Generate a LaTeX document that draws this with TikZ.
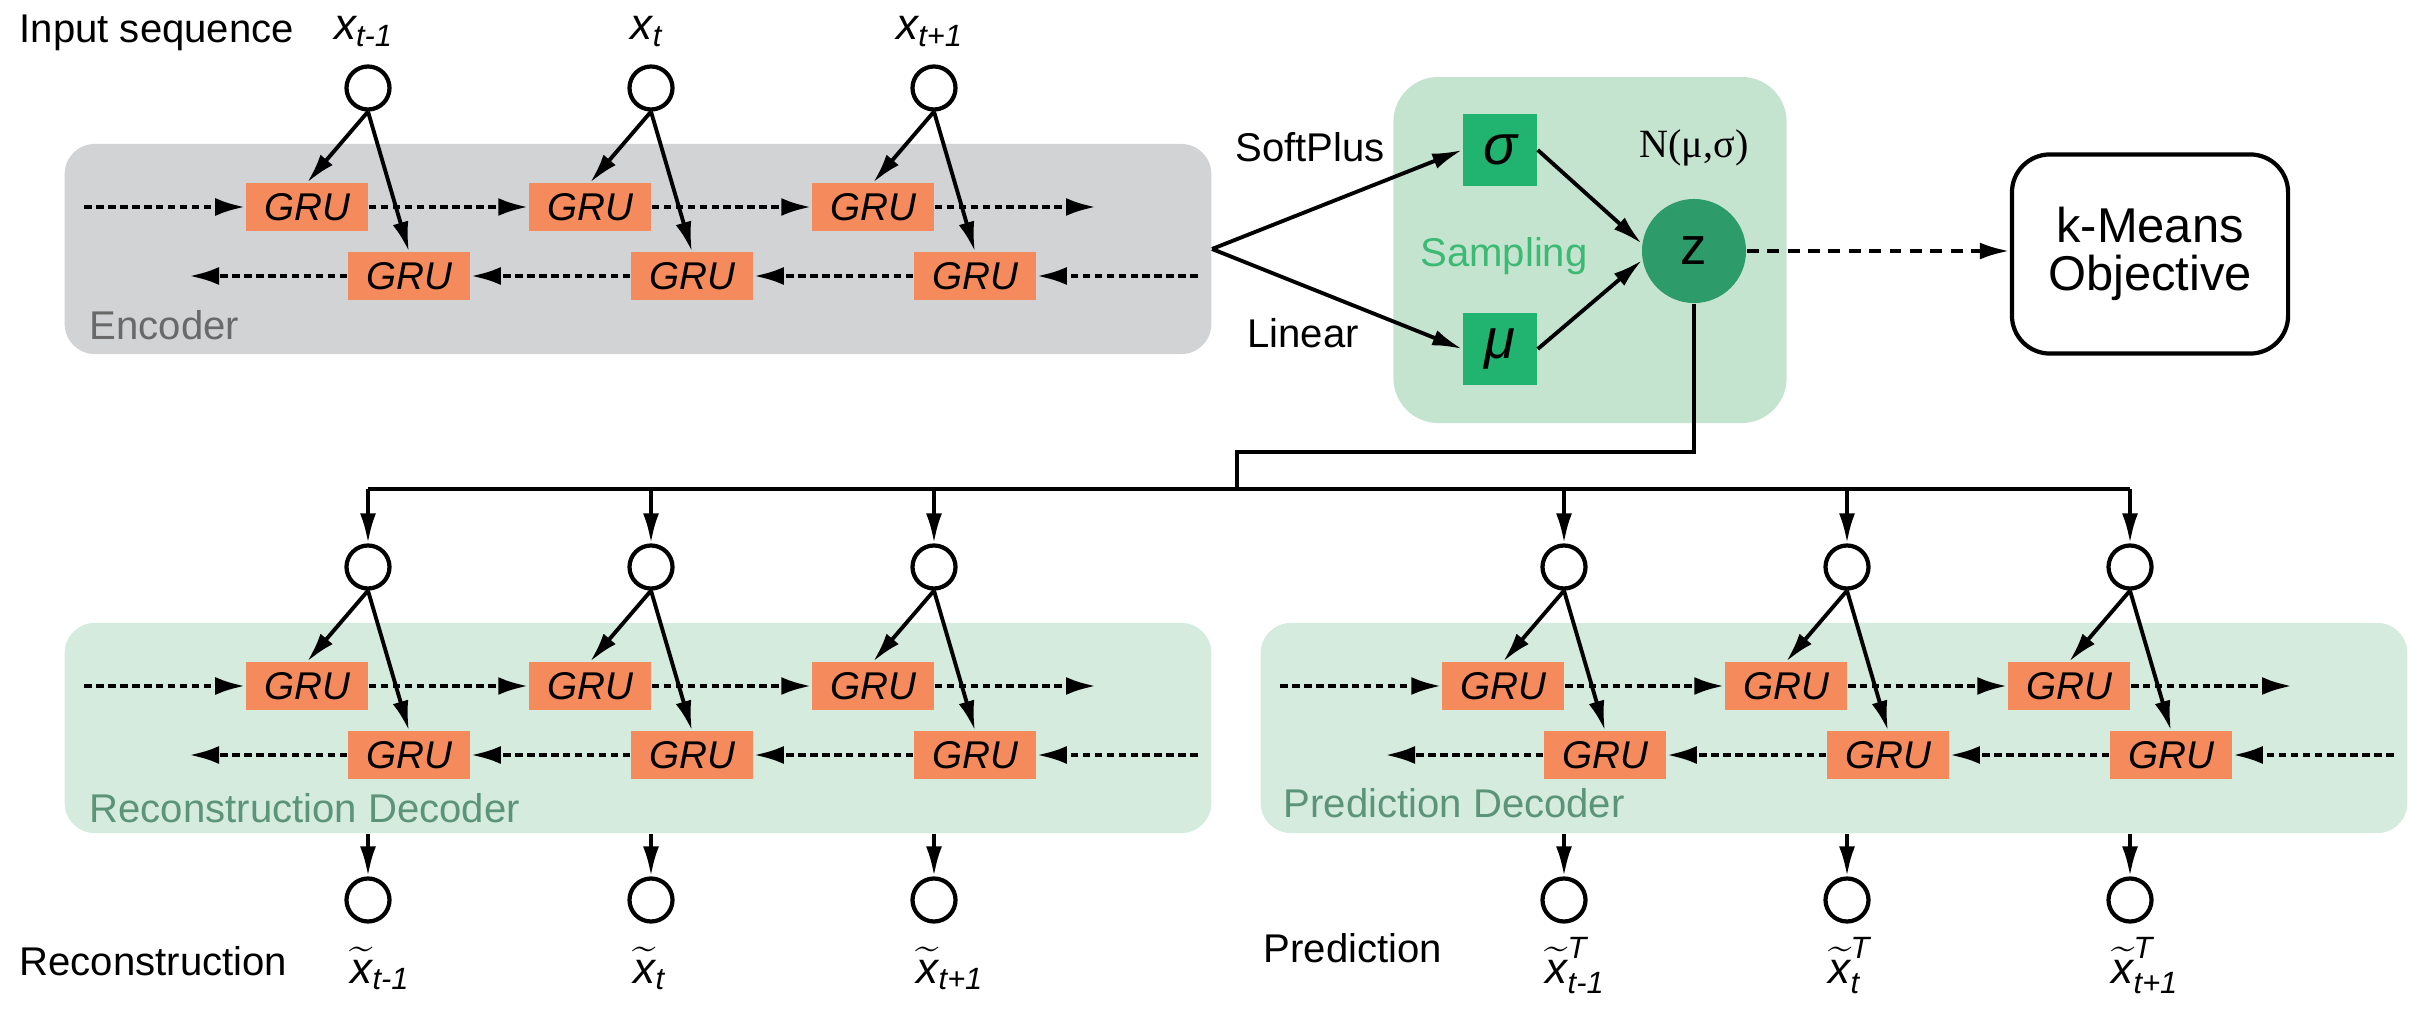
\documentclass[tikz,border=0pt]{standalone}
\usepackage{amsmath}
\usepackage{fontspec}
\setmainfont{Liberation Sans}
\newfontfamily\serifnorm{Liberation Serif}
\usepackage{xcolor}
\usetikzlibrary{arrows.meta}
\definecolor{encgray}{RGB}{209,211,212}
\definecolor{decgreen}{RGB}{212,235,222}
\definecolor{samgreen}{RGB}{197,228,208}
\definecolor{gruorange}{RGB}{245,139,92}
\definecolor{parmgreen}{RGB}{33,180,113}
\definecolor{zgreen}{RGB}{46,156,106}
\definecolor{samtext}{RGB}{60,186,116}
\definecolor{declabel}{RGB}{92,148,120}
\definecolor{enclabel}{RGB}{105,105,105}
\newcommand{\xlab}[1]{$\text{\itshape x}_{\text{\itshape #1}}$}
\newcommand{\xrec}[1]{$\widetilde{\text{\itshape x}}_{\text{\itshape #1}}$}
\newcommand{\xpre}[1]{$\widetilde{\text{\itshape x}}^{\text{\itshape T}}_{\text{\itshape #1}}$}

\begin{document}
\begin{tikzpicture}[x=0.01cm, y=-0.01cm,
    font=\fontsize{11.4}{13}\selectfont,
    panel/.style={rectangle, rounded corners=0.3cm, minimum width=11.46cm, minimum height=2.1cm, inner sep=0pt},
    gru/.style={rectangle, fill=gruorange, minimum width=1.22cm, minimum height=0.47cm, inner sep=0pt, font=\fontsize{11}{12}\selectfont\itshape},
    unit/.style={circle, draw, line width=1.2pt, fill=white, minimum size=0.43cm, inner sep=0pt},
    parm/.style={rectangle, fill=parmgreen, minimum width=0.74cm, minimum height=0.71cm, inner sep=0pt, font=\fontsize{16}{18}\selectfont\itshape},
    zcirc/.style={circle, fill=zgreen, minimum size=1.04cm, inner sep=0pt, font=\fontsize{15}{16}\selectfont},
    arrow/.style={-{Latex[length=0.3cm,width=0.16cm]}, line width=1.1pt},
    flow/.style={-{Latex[length=0.3cm,width=0.18cm]}, line width=1.25pt, dash pattern=on 2.2pt off 1.2pt},
    dasharrow/.style={-{Latex[length=0.3cm,width=0.17cm]}, line width=1.2pt, dash pattern=on 3.4pt off 2.4pt},
    wire/.style={line width=1.1pt},
    tag/.style={anchor=base west, inner sep=0pt},
    xtag/.style={anchor=base west, inner sep=0pt, font=\fontsize{12.5}{14}\selectfont}
]
    \useasboundingbox (0,0) rectangle (2434,1016);

    % Panels
    \node[panel, fill=encgray] (epanel) at (638,249) {};
    \node[panel, fill=decgreen] (rpanel) at (638,728) {};
    \node[panel, fill=decgreen] (ppanel) at (1834,728) {};
    \node[panel, fill=samgreen, rounded corners=0.45cm, minimum width=3.93cm, minimum height=3.46cm] (spanel) at (1590,250) {};

    \node[tag, text=enclabel] (enclab) at (89,340) {Encoder};
    \node[tag, text=declabel] (reclab) at (89,822) {Reconstruction Decoder};
    \node[tag, text=declabel] (prelab) at (1283,817) {Prediction Decoder};

    % Bidirectional GRU blocks
    \foreach \b/\dx/\dy in {e/0/0, r/0/479, p/1196/479} {
        \foreach \i in {0,1,2} {
            \node[unit] (\b in\i) at ({368+283*\i+\dx}, {88+\dy}) {};
            \node[gru] (\b f\i) at ({307+283*\i+\dx}, {207+\dy}) {GRU};
            \node[gru] (\b g\i) at ({409+283*\i+\dx}, {276+\dy}) {GRU};
            \draw[arrow] (\b in\i.south) -- (\b f\i.north);
            \draw[arrow] (\b in\i.south) -- (\b g\i.north);
        }
        \coordinate (\b fwdin) at ({84+\dx}, {207+\dy});
        \coordinate (\b fwdout) at ({1096+\dx}, {207+\dy});
        \coordinate (\b bwdin) at ({1198+\dx}, {276+\dy});
        \coordinate (\b bwdout) at ({189+\dx}, {276+\dy});
        \draw[flow] (\b fwdin) -- (\b f0);
        \draw[flow] (\b f0) -- (\b f1);
        \draw[flow] (\b f1) -- (\b f2);
        \draw[flow] (\b f2) -- (\b fwdout);
        \draw[flow] (\b bwdin) -- (\b g2);
        \draw[flow] (\b g2) -- (\b g1);
        \draw[flow] (\b g1) -- (\b g0);
        \draw[flow] (\b g0) -- (\b bwdout);
    }

    % Input labels
    \node[tag] (inseq) at (19,43) {Input sequence};
    \foreach \i/\s in {0/t-1, 1/t, 2/t+1}
        \node[anchor=base, inner sep=0pt, font=\fontsize{12.5}{14}\selectfont] (xin\i) at ({364+283*\i}, 40) {\xlab{\s}};

    % Sampling
    \node[parm] (sig) at (1500,150) {σ};
    \node[parm] (mu) at (1500,349) {μ};
    \node[zcirc] (z) at (1694,251) {z};
    \node[anchor=base, inner sep=0pt] (normal) at (1694,158) {\serifnorm N(μ,σ)};
    \node[anchor=base, inner sep=0pt, text=samtext] (samplab) at (1504,267) {Sampling};
    \node[anchor=base, inner sep=0pt] (softlab) at (1310,162) {SoftPlus};
    \node[anchor=base, inner sep=0pt] (linlab) at (1303,348) {Linear};

    \draw[arrow] (epanel.east) -- (sig.west);
    \draw[arrow] (epanel.east) -- (mu.west);
    \draw[arrow] (sig.east) -- (z.172);
    \draw[arrow] (mu.east) -- (z.190);

    % k-Means objective
    \node[rectangle, draw, line width=1.2pt, rounded corners=0.38cm, minimum width=2.76cm, minimum height=1.99cm, align=center, font=\fontsize{13.9}{13.6}\selectfont] (km) at (2150,254) {k-Means\\Objective};
    \draw[dasharrow] (z.east) -- (z.east -| km.west);

    % Latent code to decoders
    \coordinate (knee) at (1237,452);
    \coordinate (bus) at (1237,489);
    \draw[wire] (z.south) |- (knee) -- (bus);
    \draw[wire] (rin0 |- bus) -- (pin2 |- bus);
    \foreach \b in {r,p}
        \foreach \i in {0,1,2}
            \draw[arrow] (\b in\i |- bus) -- (\b in\i.north);

    % Outputs
    \foreach \b/\dx in {r/0, p/1196}
        \foreach \i in {0,1,2} {
            \node[unit] (\b out\i) at ({368+283*\i+\dx}, 900) {};
            \draw[arrow] (\b out\i |- \b panel.south) -- (\b out\i);
        }
    \node[tag] (reclabel) at (19,975) {Reconstruction};
    \node[tag] (prelabel) at (1263,962) {Prediction};
    \foreach \i/\s in {0/t-1, 1/t, 2/t+1} {
        \node[xtag] (rlab\i) at ({350+283*\i}, 983) {\xrec{\s}};
        \node[xtag] (plab\i) at ({1545+283*\i}, 983) {\xpre{\s}};
    }
\end{tikzpicture}
\end{document}
